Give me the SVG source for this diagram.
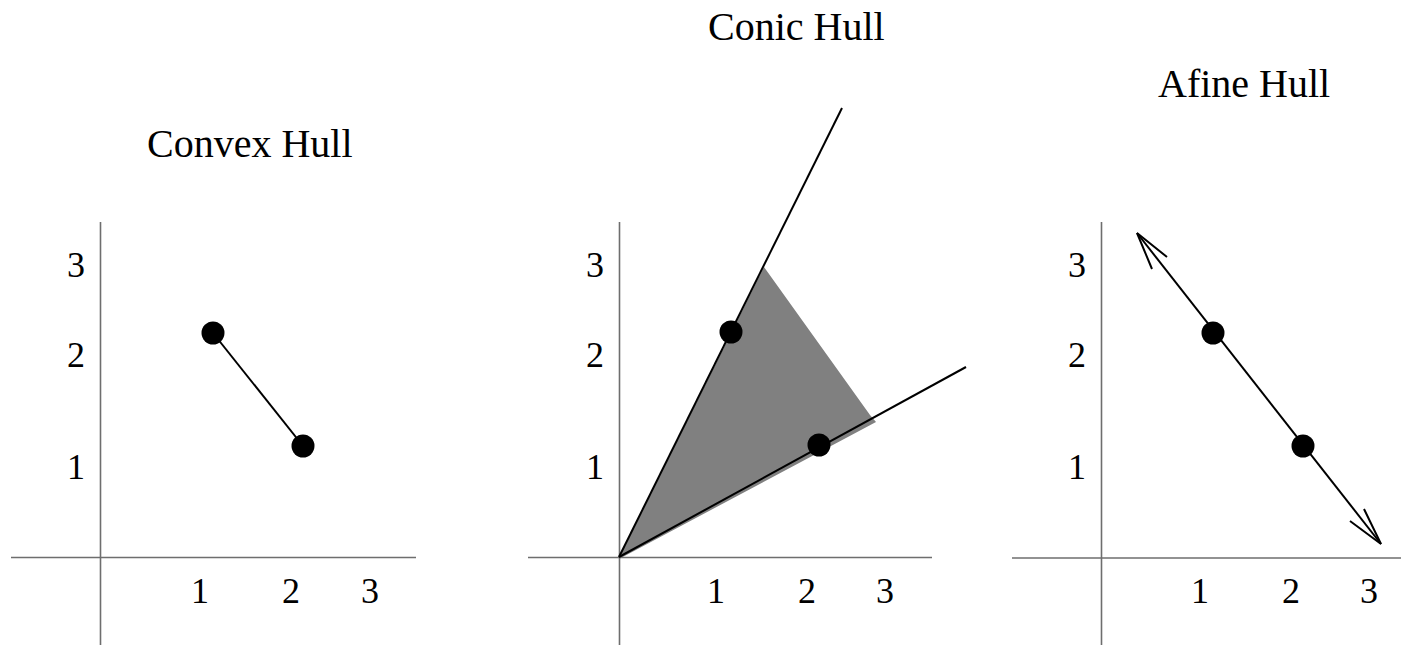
<svg xmlns="http://www.w3.org/2000/svg" width="1401" height="645" viewBox="0 0 1401 645">
<style>
.axis{stroke:#6e6e6e;stroke-width:1.6;fill:none}
.ln{stroke:#000;stroke-width:2;fill:none}
.pt{fill:#000}
.title{font-family:"Liberation Serif","Times New Roman",serif;font-size:40px;fill:#000}
.num{font-family:"Liberation Serif","Times New Roman",serif;font-size:36px;fill:#000;text-anchor:middle}
</style>
<rect width="1401" height="645" fill="#fff"/>
<g id="convex">
<text class="title" x="147" y="157">Convex Hull</text>
<line class="axis" x1="11" y1="557.5" x2="416" y2="557.5"/>
<line class="axis" x1="100.5" y1="222" x2="100.5" y2="645"/>
<text class="num" x="76" y="277">3</text>
<text class="num" x="76" y="367">2</text>
<text class="num" x="76" y="479">1</text>
<text class="num" x="200" y="603">1</text>
<text class="num" x="291" y="603">2</text>
<text class="num" x="370" y="603">3</text>
</g>
<g id="conic">
<text class="title" x="708" y="40">Conic Hull</text>
<polygon points="619,557 764,267 870,415 876,422 619,559" fill="#808080"/>
<line class="axis" x1="528" y1="557.5" x2="932" y2="557.5"/>
<line class="axis" x1="619.5" y1="222" x2="619.5" y2="645"/>
<text class="num" x="595" y="277">3</text>
<text class="num" x="595" y="367">2</text>
<text class="num" x="595" y="479">1</text>
<text class="num" x="716" y="603">1</text>
<text class="num" x="807" y="603">2</text>
<text class="num" x="885" y="603">3</text>
</g>
<g id="affine">
<text class="title" x="1158" y="97">Afine Hull</text>
<line class="axis" x1="1012" y1="558" x2="1401" y2="558"/>
<line class="axis" x1="1101.5" y1="222" x2="1101.5" y2="645"/>
<text class="num" x="1077" y="277">3</text>
<text class="num" x="1077" y="367">2</text>
<text class="num" x="1077" y="479">1</text>
<text class="num" x="1200" y="603">1</text>
<text class="num" x="1291" y="603">2</text>
<text class="num" x="1369" y="603">3</text>
</g>
<g id="connectors">
<line class="ln" x1="213" y1="333" x2="303" y2="446"/>
<line class="ln" x1="619" y1="557" x2="842" y2="108"/>
<line class="ln" x1="619" y1="557" x2="966" y2="367"/>
<line class="ln" x1="1137" y1="233" x2="1381" y2="544"/>
<polyline class="ln" points="1167,257 1137,233 1152,269"/>
<polyline class="ln" points="1350,521 1381,544 1364,509"/>
</g>
<g id="p1a"><circle class="pt" cx="213" cy="333" r="11.5"/></g>
<g id="p1b"><circle class="pt" cx="303" cy="446" r="11.5"/></g>
<g id="p2a"><circle class="pt" cx="731" cy="332" r="11.5"/></g>
<g id="p2b"><circle class="pt" cx="819" cy="445" r="11.5"/></g>
<g id="p3a"><circle class="pt" cx="1213" cy="333" r="11.5"/></g>
<g id="p3b"><circle class="pt" cx="1303" cy="446" r="11.5"/></g>
</svg>
